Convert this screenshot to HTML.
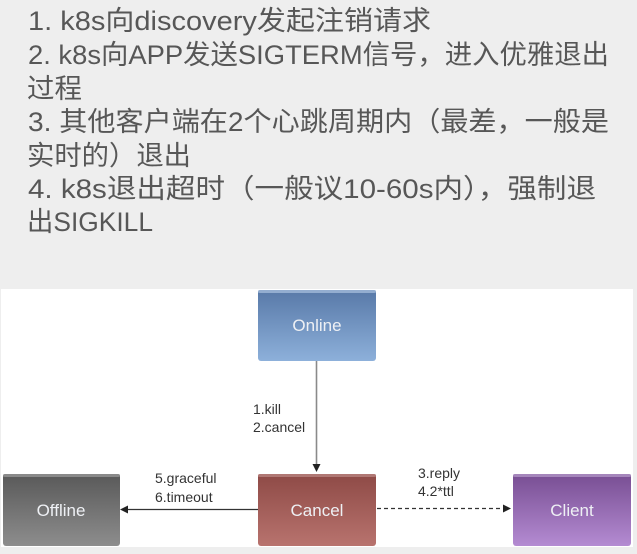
<!DOCTYPE html>
<html>
<head>
<meta charset="utf-8">
<style>
  html, body { margin: 0; padding: 0; background: #eeeeee; }
  body { width: 637px; height: 554px; overflow: hidden; }
  svg { display: block; }
  .t { font-family: "Liberation Sans", "Noto Sans CJK SC", sans-serif; font-size: 27px; fill: #575757; }
  .lbl { font-family: "Liberation Sans", sans-serif; font-size: 14px; fill: #333; }
  .box { font-family: "Liberation Sans", sans-serif; font-size: 17px; fill: #eef0f4; }
</style>
</head>
<body>
<svg width="637" height="554" viewBox="0 0 637 554" xmlns="http://www.w3.org/2000/svg">
  <defs>
    <linearGradient id="gOn" x1="0" y1="0" x2="0" y2="1">
      <stop offset="0" stop-color="#5879a8"/>
      <stop offset="1" stop-color="#8db0da"/>
    </linearGradient>
    <linearGradient id="gCa" x1="0" y1="0" x2="0" y2="1">
      <stop offset="0" stop-color="#8e4a46"/>
      <stop offset="1" stop-color="#b8736e"/>
    </linearGradient>
    <linearGradient id="gOf" x1="0" y1="0" x2="0" y2="1">
      <stop offset="0" stop-color="#595959"/>
      <stop offset="1" stop-color="#8d8d8d"/>
    </linearGradient>
    <linearGradient id="gCl" x1="0" y1="0" x2="0" y2="1">
      <stop offset="0" stop-color="#784e93"/>
      <stop offset="1" stop-color="#b48bd2"/>
    </linearGradient>
  </defs>

  <!-- background -->
  <rect x="0" y="0" width="637" height="554" fill="#eeeeee"/>

  <!-- top text -->
  <text class="t" x="28" y="30" textLength="403" lengthAdjust="spacingAndGlyphs">1. k8s向discovery发起注销请求</text>
  <text class="t" x="28" y="64" textLength="581" lengthAdjust="spacingAndGlyphs">2. k8s向APP发送SIGTERM信号，进入优雅退出</text>
  <text class="t" x="27" y="98" textLength="55" lengthAdjust="spacingAndGlyphs">过程</text>
  <text class="t" x="28" y="131" textLength="581" lengthAdjust="spacingAndGlyphs">3. 其他客户端在2个心跳周期内（最差，一般是</text>
  <text class="t" x="27" y="165" textLength="164" lengthAdjust="spacingAndGlyphs">实时的）退出</text>
  <text class="t" x="28" y="198" textLength="568" lengthAdjust="spacingAndGlyphs">4. k8s退出超时（一般议10-60s内），强制退</text>
  <text class="t" x="27" y="231" textLength="126" lengthAdjust="spacingAndGlyphs">出SIGKILL</text>

  <!-- white diagram panel -->
  <rect x="1" y="289" width="632" height="258" fill="#ffffff"/>

  <!-- Online box -->
  <rect x="258" y="290" width="118" height="71" rx="3" fill="url(#gOn)"/>
  <rect x="258" y="290" width="118" height="3" rx="2" fill="#93add0"/>
  <text class="box" x="317" y="331" text-anchor="middle">Online</text>

  <!-- Cancel box -->
  <rect x="258" y="474" width="118" height="72" rx="3" fill="url(#gCa)"/>
  <rect x="258" y="474" width="118" height="3" rx="2" fill="#b07874"/>
  <text class="box" x="317" y="516" text-anchor="middle">Cancel</text>

  <!-- Offline box -->
  <rect x="3" y="474" width="117" height="72" rx="3" fill="url(#gOf)"/>
  <rect x="3" y="474" width="117" height="3" rx="2" fill="#8a8a8a"/>
  <text class="box" x="61" y="516" text-anchor="middle">Offline</text>

  <!-- Client box -->
  <rect x="513" y="474" width="118" height="72" rx="3" fill="url(#gCl)"/>
  <rect x="513" y="474" width="118" height="3" rx="2" fill="#a586bb"/>
  <text class="box" x="572" y="516" text-anchor="middle">Client</text>

  <!-- vertical arrow Online -> Cancel -->
  <line x1="316.5" y1="361" x2="316.5" y2="465" stroke="#8a8a8a" stroke-width="1.6"/>
  <polygon points="312.5,464 320.5,464 316.5,472" fill="#222"/>
  <text class="lbl" x="253" y="414">1.kill</text>
  <text class="lbl" x="253" y="432">2.cancel</text>

  <!-- Cancel -> Offline -->
  <line x1="258" y1="509.5" x2="127" y2="509.5" stroke="#333" stroke-width="1.3"/>
  <polygon points="120,509.5 128,505.5 128,513.5" fill="#222"/>
  <text class="lbl" x="155" y="483">5.graceful</text>
  <text class="lbl" x="155" y="502">6.timeout</text>

  <!-- Cancel -> Client dashed -->
  <line x1="377" y1="508.5" x2="503" y2="508.5" stroke="#333" stroke-width="1.3" stroke-dasharray="4,3"/>
  <polygon points="511,508.5 503,504.5 503,512.5" fill="#222"/>
  <text class="lbl" x="418" y="478">3.reply</text>
  <text class="lbl" x="418" y="496">4.2*ttl</text>

  <!-- bottom gray strip -->
  <rect x="0" y="547" width="637" height="7" fill="#eeeeee"/>
</svg>
</body>
</html>
